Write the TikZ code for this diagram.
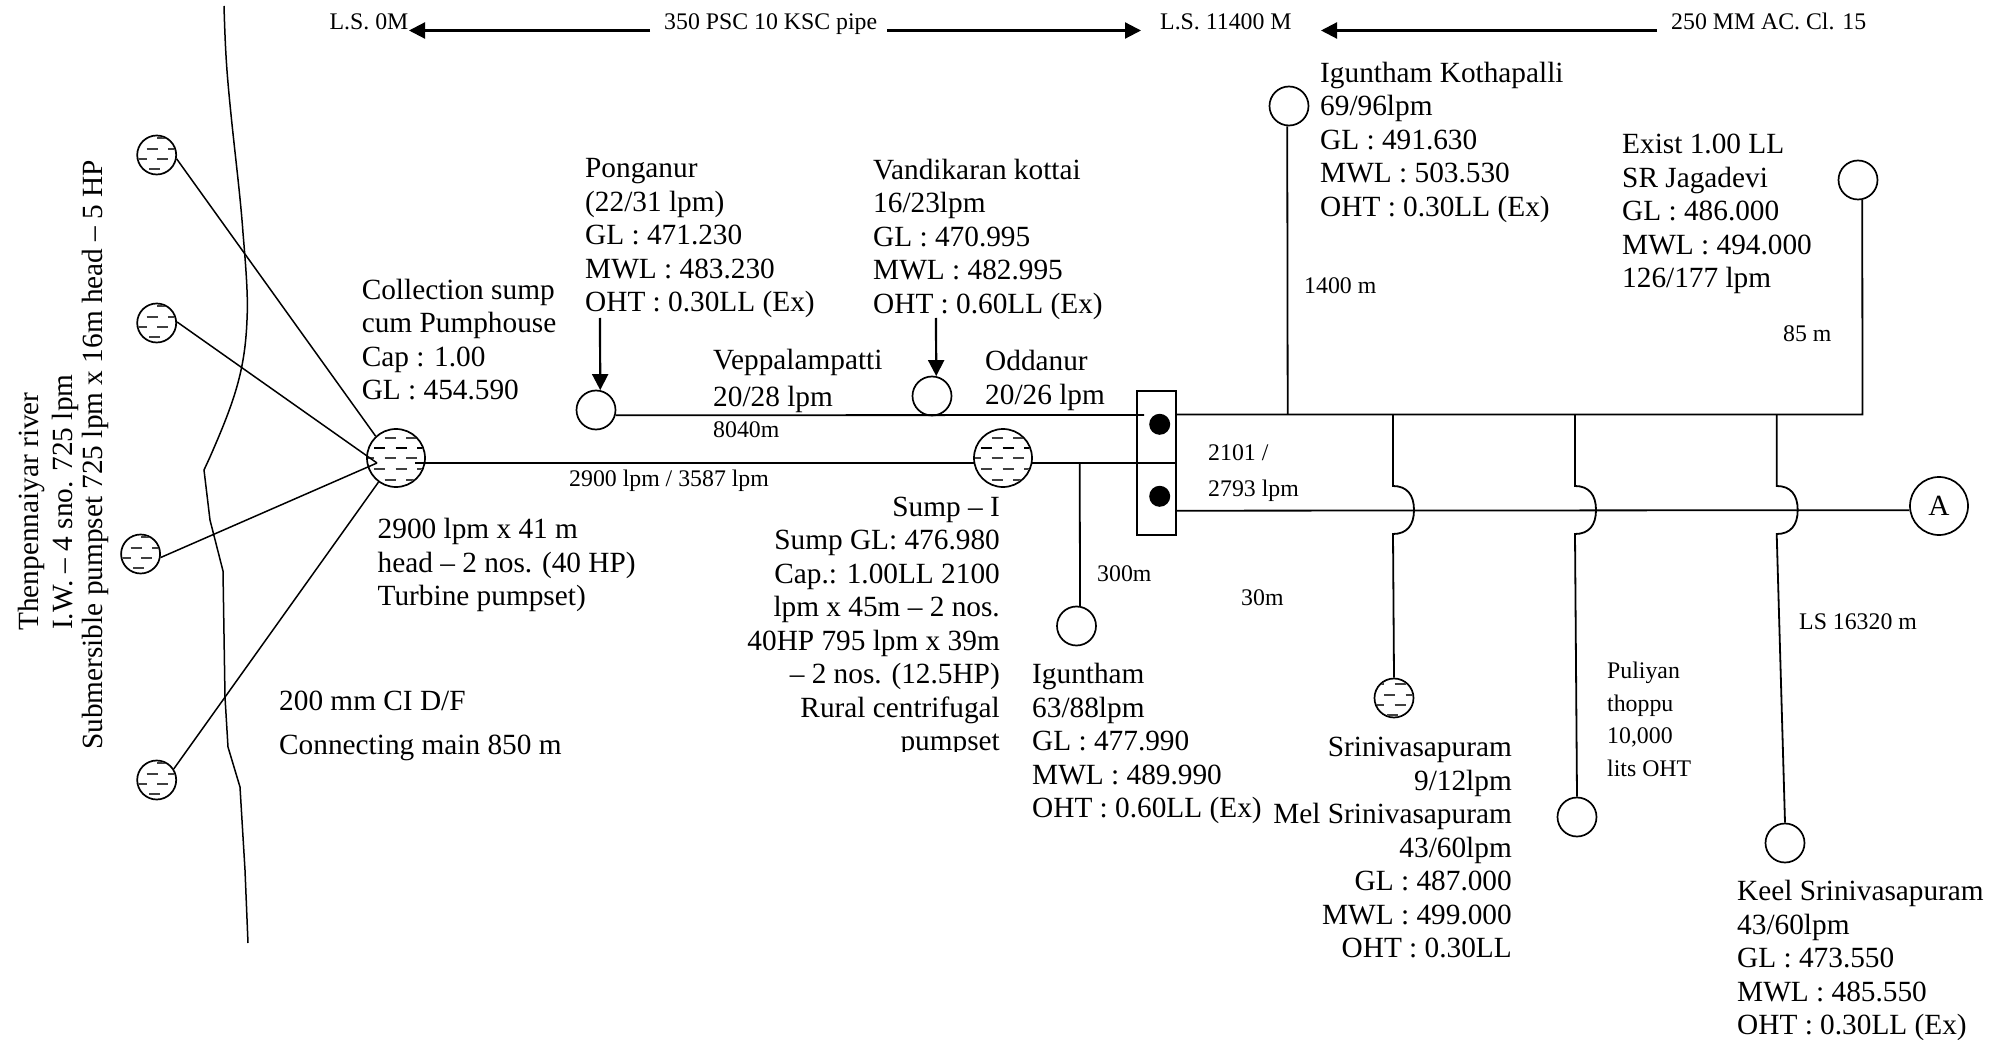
\documentclass[tikz,border=0pt]{standalone}
\usepackage{fontspec}
\setmainfont{Liberation Serif}
\usetikzlibrary{arrows.meta}
\tikzset{
  pipe/.style={line width=1.8pt},
  thinpipe/.style={line width=1.5pt},
  arrowpipe/.style={line width=2.2pt,-{Triangle[length=16pt,width=16pt]}},
  tank/.style={circle,draw,line width=1.7pt,inner sep=0pt,minimum size=39pt},
  bigtank/.style={circle,draw,line width=1.7pt,inner sep=0pt,minimum size=58pt},
  big/.style={font=\fontsize{29.3}{33.5}\selectfont,align=left,inner sep=0pt,anchor=north west,yshift=19pt,execute at begin node=\strut},
  bigr/.style={big,align=right,anchor=north east},
  small/.style={font=\fontsize{23.8}{32.5}\selectfont,align=left,inner sep=0pt,anchor=north west,yshift=22.75pt,execute at begin node=\strut},
  vert/.style={font=\fontsize{29.3}{33.5}\selectfont,inner sep=0pt,anchor=base west,rotate=90},
  hatchdash/.style={black!75,line width=2.8pt,dash pattern=on 11pt off 10.7pt},
  hatchthin/.style={black,line width=1.4pt,dash pattern=on 11pt off 10.7pt},
}
% rows of dashes inside the large tanks
\newcommand{\hatchbig}[1]{%
  \begin{scope}
    \clip (#1.center) circle (28pt);
    \foreach \dy in {-20,0,11,22}{
      \pgfmathsetmacro{\xs}{(\dy==11) ? -43.7 : -33}
      \draw[hatchdash] ([shift={(\xs pt,-\dy pt)}]#1.center) -- ([shift={(45pt,-\dy pt)}]#1.center);
    }
    \draw[hatchthin] ([shift={(-43.7pt,10pt)}]#1.center) -- ([shift={(45pt,10pt)}]#1.center);
  \end{scope}}
% rows of dashes inside the small tanks; #2 moves the rows up or down
\newcommand{\hatchsmall}[2]{%
  \begin{scope}
    \clip (#1.center) circle (18.6pt);
    \foreach \dy/\xs in {-14/-21,-3/-31.7,7/-21,17/-29.2}{
      \pgfmathsetmacro{\yy}{\dy+#2}
      \draw[hatchdash] ([shift={(\xs pt,-\yy pt)}]#1.center) -- ([shift={(30pt,-\yy pt)}]#1.center);
    }
  \end{scope}}
\newcommand{\hopdown}[2]{% from coordinate #1 down over the lower main, on to #2
  \draw[pipe] (#1) -- ([yshift=-71.5pt]#1)
    .. controls +(14,0) and +(0,-15) .. ([shift={(21pt,-95.5pt)}]#1)
    .. controls +(0,15) and +(14,0) .. ([yshift=-119.5pt]#1)
    -- (#2);}
\begin{document}
\begin{tikzpicture}[x=1pt,y=-1pt]
\useasboundingbox (0,0) rectangle (2011,1040);
\fill[white] (0,0) rectangle (2011,1040);

% river
\draw[thinpipe] (224,6) .. controls (225,40) and (226,60) .. (228,83)
  .. controls (233,140) and (240,190) .. (243,233)
  .. controls (247,280) and (248,300) .. (247,320)
  .. controls (245,370) and (235,400) .. (210,457)
  -- (204,470) -- (210,520) -- (223,571) -- (225,697) -- (228,747) -- (240,787) -- (245,870) -- (248,943);

% tanks
\node[tank] (e1) at (156.7,155) {};
\node[tank] (e2) at (156.7,323) {};
\node[tank] (e3) at (140.6,554) {};
\node[tank] (e4) at (156.7,780) {};
\node[bigtank] (cs) at (396,458) {};
\node[bigtank] (s1) at (1003,458) {};
\hatchsmall{e1}{-3}\hatchsmall{e2}{-3}\hatchsmall{e3}{-3}\hatchsmall{e4}{-3}
\hatchbig{cs}\hatchbig{s1}
\node[tank] (pon) at (596,410) {};
\node[tank] (van) at (932,396) {};
\node[tank] (igk) at (1289,106) {};
\node[tank] (jag) at (1858,180) {};
\node[tank] (igu) at (1076.5,626) {};
\node[tank] (sri) at (1394,698) {};
\hatchsmall{sri}{0}
\node[tank] (pul) at (1577,817) {};
\node[tank] (kee) at (1785,843) {};
\node[bigtank,font=\fontsize{29.3}{33}\selectfont] (A) at (1939,506) {A};
\node[draw,line width=1.7pt,inner sep=0pt,minimum width=38.7pt,minimum height=144pt] (box) at (1156.6,462.7) {};
\node[circle,fill,inner sep=0pt,minimum size=21pt] (d1) at (1159.7,424.3) {};
\node[circle,fill,inner sep=0pt,minimum size=21pt] (d2) at (1159.7,496.3) {};

% intake lines
\coordinate (junc) at (377,463);
\draw[thinpipe] (e1.-11) -- (cs.133);
\draw[thinpipe] (e2.3) -- (junc);
\draw[thinpipe] (e3.-10) -- (junc);
\draw[thinpipe] (e4.33) -- (cs.234);

% mains
\coordinate (csout) at (415,462.7);
\coordinate (s1w) at (974,462.7);
\coordinate (s1e) at (1032,462.7);
\coordinate (boxe) at (1176,462.7);
\coordinate (topend) at (1144,415);
\coordinate (tr0) at (1176,414.5);
\coordinate (tr1) at (1862.5,414.5);
\coordinate (lo0) at (1176,510.7);
\coordinate (b0) at (1287.7,414.5);
\coordinate (b1) at (1393,414.5);
\coordinate (b2) at (1575,414.5);
\coordinate (b3) at (1776.7,414.5);
\coordinate (b4) at (1079.7,462.7);
\draw[pipe] (csout) -- (s1w);
\draw[pipe] (s1e) -- (boxe);
\draw[pipe] (pon.-15) -- (topend);
\draw[pipe] (tr0) -- (tr1) -- (jag.-78);
\draw[pipe] (lo0) -- (A.188);
\draw[pipe] (b0) -- (igk.-95);
\draw[pipe] (b4) -- (igu.80);
\hopdown{b1}{sri.north}
\hopdown{b2}{pul.north}
\hopdown{b3}{kee.north}

% arrows
\coordinate (a1) at (600,318);
\coordinate (a2) at (936,318);
\draw[arrowpipe] (a1) -- (pon.78);
\draw[arrowpipe] (a2) -- (van.78);
\coordinate (t1) at (650,30.5); \coordinate (t1e) at (409,30.5);
\coordinate (t2) at (887,30.5); \coordinate (t2e) at (1141,30.5);
\coordinate (t3) at (1657,30.5); \coordinate (t3e) at (1321,30.5);
\draw[arrowpipe] (t1) -- (t1e);
\draw[arrowpipe] (t2) -- (t2e);
\draw[arrowpipe] (t3) -- (t3e);

% top labels
\node[small] (l1) at (329.5,29) {L.S. 0M};
\node[small] (l2) at (664,29) {350 PSC 10 KSC pipe};
\node[small] (l3) at (1160,29) {L.S. 11400 M};
\node[small] (l4) at (1671,29) {250 MM AC. Cl. 15};

% rotated labels
\node[vert] (r1) at (38.5,631) {Thenpennaiyar river};
\node[vert] (r2) at (72.5,630) {I.W. -- 4 sno. 725 lpm};
\node[vert] (r3) at (102,750) {Submersible pumpset 725 lpm x 16m head -- 5 HP};

% big labels
\node[big] (x1) at (585,177.6) {Ponganur\\(22/31 lpm)\\GL : 471.230\\MWL : 483.230\\OHT : 0.30LL (Ex)};
\node[big] (x2) at (873,177.6) {Vandikaran kottai\\16/23lpm\\GL : 470.995\\MWL : 482.995\\OHT : 0.60LL (Ex)};
\node[big] (x3) at (361.6,297.5) {Collection sump\\cum Pumphouse\\Cap : 1.00\\GL : 454.590};
\node[big] (x4) at (713,368) {Veppalampatti\\[3pt]20/28 lpm};
\node[big] (x5) at (985,369) {Oddanur\\20/26 lpm};
\node[big] (x6) at (377.5,537) {2900 lpm x 41 m\\head -- 2 nos. (40 HP)\\Turbine pumpset)};
\node[big] (x7) at (279,706) {200 mm CI D/F};
\node[big] (x8) at (279,750) {Connecting main 850 m};
\node[bigr] (x9) at (1000,515.5) {Sump -- I\\Sump GL: 476.980\\Cap.: 1.00LL 2100\\lpm x 45m -- 2 nos.\\40HP 795 lpm x 39m\\-- 2 nos. (12.5HP)\\Rural centrifugal\\pumpset};
\fill[white] (895,752) rectangle (1004,768);
\node[big] (x10) at (1320,80.5) {Iguntham Kothapalli\\69/96lpm\\GL : 491.630\\MWL : 503.530\\OHT : 0.30LL (Ex)};
\node[big] (x11) at (1622,153) {Exist 1.00 LL\\SR Jagadevi\\GL : 486.000\\MWL : 494.000\\126/177 lpm};
\node[big] (x12) at (1032,682) {Iguntham\\63/88lpm\\GL : 477.990\\MWL : 489.990\\OHT : 0.60LL (Ex)};
\node[bigr] (x13) at (1512,756) {Srinivasapuram\\9/12lpm\\Mel Srinivasapuram\\43/60lpm\\GL : 487.000\\MWL : 499.000\\OHT : 0.30LL};
\node[big] (x14) at (1737,899) {Keel Srinivasapuram\\43/60lpm\\GL : 473.550\\MWL : 485.550\\OHT : 0.30LL (Ex)};

% small labels
\node[small] (s01) at (713,437) {8040m};
\node[small] (s02) at (569,486.7) {2900 lpm / 3587 lpm};
\node[small] (s03) at (1304,293) {1400 m};
\node[small] (s04) at (1783,341) {85 m};
\node[small] (s05) at (1208,460) {2101 /};
\node[small] (s06) at (1208,496) {2793 lpm};
\node[small] (s07) at (1097,581) {300m};
\node[small] (s08) at (1241,605) {30m};
\node[small] (s09) at (1799,629) {LS 16320 m};
\node[small] (s10) at (1607,684.7) {Puliyan\\thoppu\\10,000\\lits OHT};
\end{tikzpicture}
\end{document}
